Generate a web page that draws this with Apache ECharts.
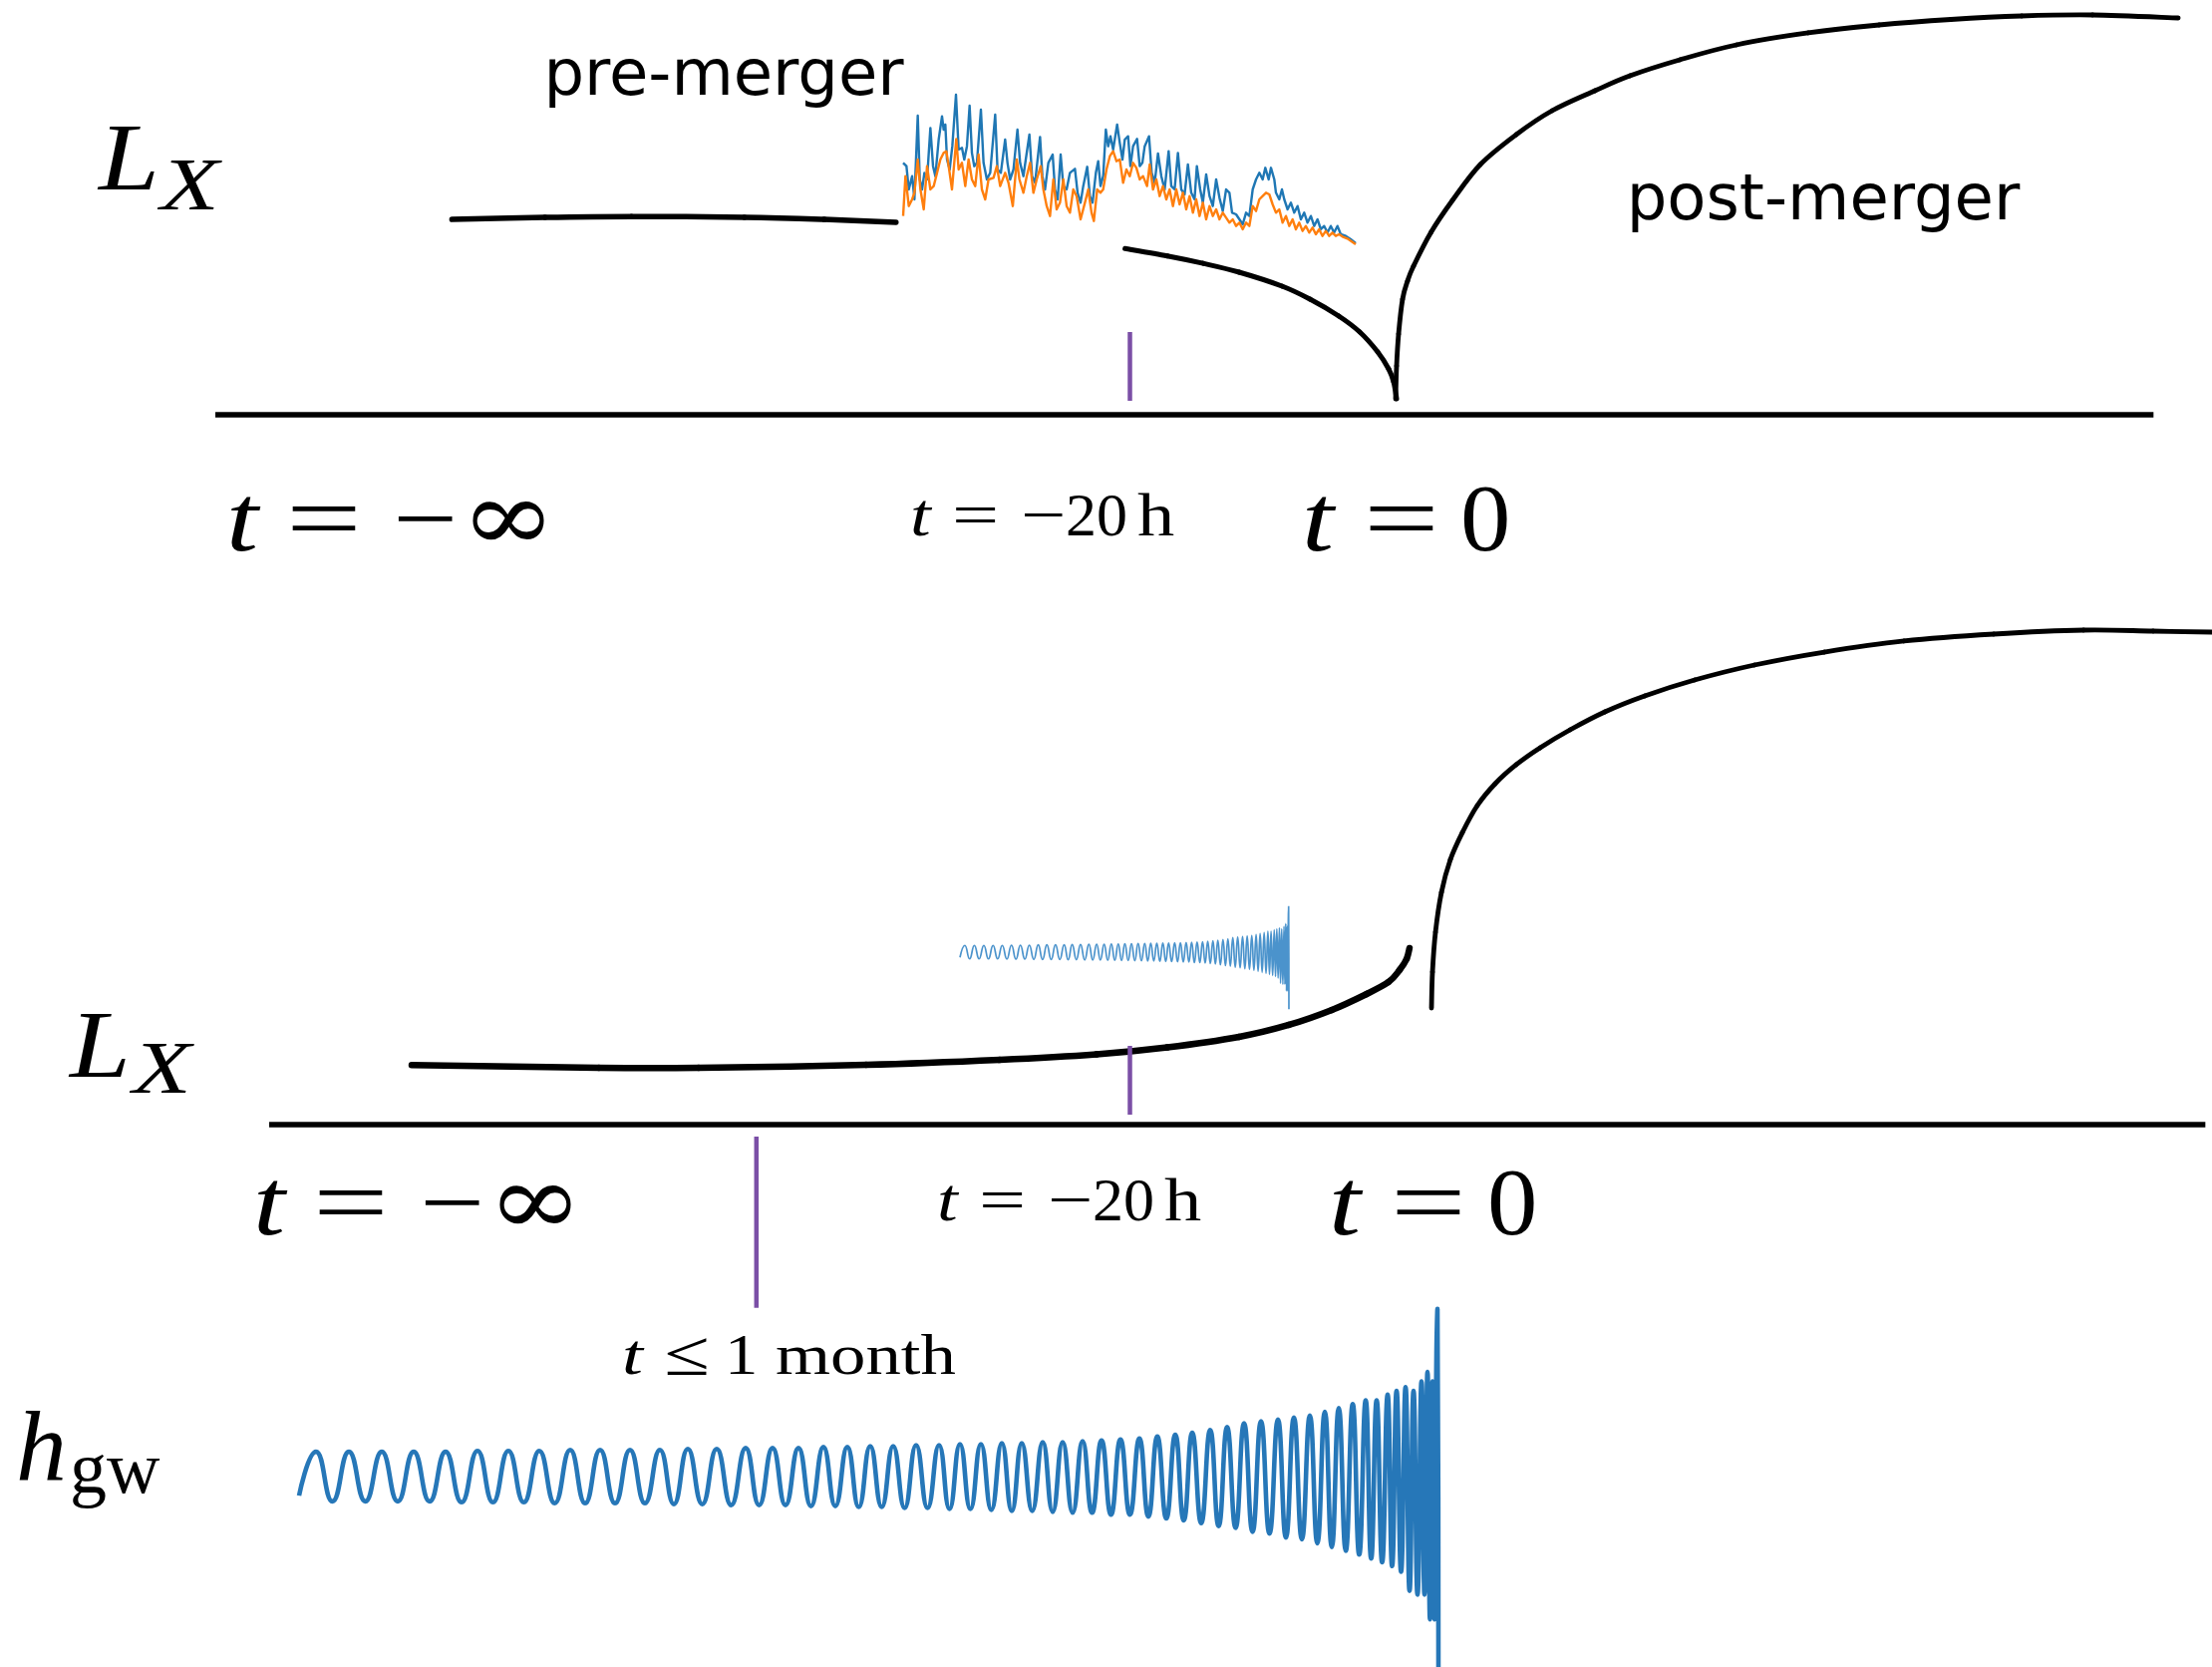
<!DOCTYPE html>
<html><head><meta charset="utf-8">
<script src="https://cdn.jsdelivr.net/npm/echarts@6/dist/echarts.min.js"></script>
<style>html,body{margin:0;padding:0;background:#fff}#c{width:2219px;height:1672px}</style>
</head><body><div id="c"></div><script>
// ---------- schematic time axis (t, arbitrary units; t=0 merger) ----------
const topAxisT = [-88.8, 57.0];
const botAxisT = [-84.75, 60.9];
const tickT = -20;
const topTickL = [19.95, 3.37];
const botTickL = [18.99, 2.40];
const monthT = -48.1;
const monthL = [-2.9, -44.2];

// ---------- upper panel: L_X ----------
const topPreT = [-71, -64, -57.5, -49, -43, -37.6];
const topPreL = [47.1, 47.6, 47.8, 47.6, 47.1, 46.4];
const topDecayT = [-20.37, -17.19, -14.5, -11.79, -8.56, -6.46, -4.29, -2.71, -1.36, -0.54, -0.16, 0.06];
const topDecayL = [40.07, 38.29, 36.5, 34.38, 31.01, 27.88, 23.80, 19.95, 15.14, 11.06, 7.93, 3.85];
const topRiseT = [-0.015, 0.06, 0.21, 0.51, 0.88, 1.33, 2.65, 4.26, 6.36, 9.06, 11.76, 14.98, 17.61, 21.36, 25.63, 31.03, 36.36, 41.76, 47.08, 52.41, 58.86];
const topRiseL = [3.85, 11.78, 19.47, 27.88, 32.21, 35.82, 43.99, 51.68, 60.34, 67.55, 73.32, 78.13, 81.73, 85.58, 89.18, 92.07, 93.99, 95.31, 96.15, 96.39, 95.67];

// observed light curves (time index, count rate)
const lcBlue = [[0,250],[10,240],[17,170],[27,210],[34,140],[44,392],[50,200],[57,170],[64,220],[72,200],[82,355],[90,240],[97,210],[107,320],[117,390],[122,350],[127,365],[132,260],[140,230],[148,300],[159,455],[167,290],[177,295],[184,260],[192,300],[200,422],[207,280],[214,240],[222,250],[234,410],[242,250],[252,200],[262,220],[277,395],[284,230],[294,220],[307,320],[314,250],[322,200],[332,230],[344,350],[352,250],[362,210],[369,260],[380,335],[388,210],[397,190],[412,328],[419,210],[427,170],[437,250],[450,275],[457,170],[465,140],[474,275],[482,180],[492,170],[502,220],[517,232],[525,160],[534,130],[542,180],[554,238],[562,150],[570,130],[580,220],[587,255],[594,180],[602,210],[610,350],[617,300],[624,330],[632,290],[644,365],[652,310],[660,260],[667,320],[677,330],[684,240],[692,300],[704,322],[712,240],[720,250],[727,300],[740,330],[748,220],[757,190],[767,278],[777,210],[787,170],[799,285],[807,180],[817,170],[827,280],[837,170],[847,155],[857,245],[867,160],[877,140],[884,240],[894,170],[902,130],[912,215],[922,150],[932,120],[942,200],[952,145],[962,105],[972,170],[982,160],[990,100],[1002,95],[1012,80],[1022,65],[1032,100],[1042,90],[1052,170],[1062,200],[1072,220],[1082,200],[1090,235],[1100,200],[1107,235],[1117,200],[1122,160],[1132,140],[1140,170],[1147,140],[1157,110],[1167,130],[1177,100],[1187,120],[1197,80],[1207,100],[1217,70],[1227,90],[1237,60],[1247,80],[1257,50],[1267,60],[1277,40],[1287,60],[1297,40],[1307,60],[1317,35],[1332,30],[1347,20],[1362,8]];
const lcOrange = [[0,90],[7,210],[17,120],[27,140],[34,160],[44,260],[52,170],[62,110],[72,240],[82,170],[92,180],[102,220],[112,260],[122,280],[130,285],[137,240],[147,170],[160,322],[167,230],[177,250],[187,180],[197,260],[207,200],[217,180],[227,275],[237,170],[247,140],[257,200],[272,205],[282,240],[292,180],[307,220],[317,190],[330,120],[342,260],[350,200],[362,160],[372,210],[382,250],[392,160],[402,200],[414,240],[422,170],[432,120],[442,90],[452,200],[462,110],[472,130],[482,200],[492,120],[502,100],[512,170],[522,150],[534,80],[547,130],[557,170],[567,100],[574,75],[584,170],[594,160],[602,170],[612,230],[622,270],[632,285],[642,255],[652,260],[662,190],[672,230],[682,210],[692,250],[702,235],[712,200],[722,210],[734,180],[742,245],[752,170],[762,200],[772,150],[782,180],[792,140],[802,170],[812,120],[822,170],[832,125],[842,160],[852,110],[862,150],[872,100],[882,140],[892,90],[902,130],[912,80],[922,120],[932,90],[942,110],[952,80],[962,100],[972,85],[982,70],[992,80],[1002,60],[1012,70],[1022,50],[1032,70],[1042,60],[1052,120],[1062,105],[1072,140],[1082,150],[1092,160],[1102,155],[1112,125],[1122,100],[1132,110],[1142,70],[1152,90],[1162,60],[1172,80],[1182,50],[1192,70],[1202,45],[1212,60],[1222,40],[1232,55],[1242,35],[1252,50],[1262,30],[1272,45],[1282,30],[1292,40],[1302,30],[1312,35],[1322,28],[1337,22],[1352,12],[1362,5]];

// ---------- lower panel: L_X ----------
const botLowT = [-74.03, -59.95, -52.45, -39.85, -29.80, -22.52, -17.19, -11.79, -8.04, -4.81, -2.19, -0.54, 0.28, 0.81, 1.03];
const botLowL = [14.35, 13.70, 13.70, 14.42, 15.63, 16.95, 18.61, 21.15, 24.04, 27.64, 31.49, 34.38, 37.26, 39.90, 42.55];
const botRiseT = [2.685, 2.76, 2.985, 3.435, 4.11, 5.01, 6.13, 7.48, 9.06, 10.86, 13.11, 15.73, 18.73, 22.48, 26.98, 32.23, 38.23, 44.98, 51.73, 56.98, 61.40];
const botRiseL = [28.13, 36.78, 46.39, 56.01, 63.94, 70.43, 76.92, 82.21, 86.78, 90.87, 95.19, 99.52, 103.37, 107.21, 110.82, 113.94, 116.59, 118.27, 119.23, 118.99, 118.75];

// ---------- gravitational-wave chirp (time since start, strain) ----------
const gwPeakTime = [17,50,83,115,147,179,210,241,272,302,332,362,390,419,448,475,501,526,550,573,596,619,642,663,684,705,725,746,766,786,805,824,843,861,879,896,914,931,948,965,982,998,1014,1029,1043,1057,1070,1081,1092,1101,1110,1118,1126,1132,1137,1141];
const gwPeakAmp = [.13,.13,.13,.13,.13,.135,.135,.135,.14,.14,.14,.14,.145,.145,.15,.15,.15,.155,.155,.16,.16,.165,.165,.17,.17,.175,.175,.18,.18,.185,.19,.195,.2,.21,.22,.23,.245,.26,.28,.29,.30,.31,.32,.34,.36,.38,.40,.40,.43,.45,.47,.45,.50,.55,.50,.65];
const gwTroughTime = [0,33.5,66.5,99,131,163,194.5,225.5,256.5,287,317,347,376,404.5,433.5,461.5,488,513.5,538,561.5,584.5,607.5,630.5,652.5,673.5,694.5,715,735.5,756,776,795.5,814.5,833.5,852,870,887.5,905,922.5,939.5,956.5,973.5,990,1006,1021.5,1036,1050,1063.5,1075.5,1086.5,1096.5,1105.5,1114,1122,1129,1134.5,1139];
const gwTroughAmp = [-.10,-.13,-.13,-.13,-.13,-.135,-.135,-.135,-.14,-.14,-.14,-.14,-.145,-.145,-.15,-.15,-.15,-.155,-.155,-.16,-.16,-.165,-.165,-.17,-.17,-.175,-.18,-.18,-.185,-.19,-.19,-.2,-.2,-.21,-.22,-.23,-.245,-.26,-.27,-.29,-.30,-.32,-.33,-.35,-.37,-.39,-.41,-.43,-.45,-.47,-.50,-.60,-.62,-.62,-.75,-.75];
const gwSpikeTime = [1142, 1143];
const gwSpikeAmp = [0.88, -1.1];

// ---------- text labels ----------
const labelPre = 'pre-merger';
const labelPost = 'post-merger';
const labelLX = ['L', 'X'];
const labelH = ['h', 'gw'];
const tInf = ['t', '=', '−', '∞'];
const t20 = ['t', '=', '−', '20', 'h'];
const t0 = ['t', '=', '0'];
const tMonth = ['t', '≤', '1', 'month'];

// ---------- build ----------
const zip = (a, b) => a.map((v, i) => [v, b[i]]);
const gwData = [];
gwTroughTime.forEach((t, i) => gwData.push([t, gwTroughAmp[i]]));
gwPeakTime.forEach((t, i) => gwData.push([t, gwPeakAmp[i]]));
gwSpikeTime.forEach((t, i) => gwData.push([t, gwSpikeAmp[i]]));
gwData.sort((a, b) => a[0] - b[0]);

const BLACK = '#000000', PURPLE = '#7b4fa6', C_BLUE = '#1f77b4', C_ORANGE = '#ff7f0e';
function line(grid, data, color, width, smooth, extra) {
  return Object.assign({
    type: 'line', xAxisIndex: grid, yAxisIndex: grid, data: data, showSymbol: false, symbol: 'none',
    smooth: smooth, clip: false, silent: true,
    lineStyle: { color: color, width: width, cap: 'butt', join: 'round' }
  }, extra || {});
}
// smooth (Catmull-Rom) curve through the data points, positioned by the grid's axes (api.coord)
function curve(grid, data, color, width) {
  return {
    type: 'custom', coordinateSystem: 'cartesian2d', xAxisIndex: grid, yAxisIndex: grid,
    data: data, silent: true, clip: false,
    renderItem: function (params, api) {
      if (params.dataIndex !== 0) return null;
      const p = data.map(function (d) { return api.coord(d); });
      const children = [];
      for (let i = 0; i < p.length - 1; i++) {
        const p0 = p[Math.max(0, i - 1)], p1 = p[i], p2 = p[i + 1], p3 = p[Math.min(p.length - 1, i + 2)];
        children.push({
          type: 'bezierCurve',
          shape: {
            x1: p1[0], y1: p1[1], x2: p2[0], y2: p2[1],
            cpx1: p1[0] + (p2[0] - p0[0]) / 6, cpy1: p1[1] + (p2[1] - p0[1]) / 6,
            cpx2: p2[0] - (p3[0] - p1[0]) / 6, cpy2: p2[1] - (p3[1] - p1[1]) / 6
          },
          style: { stroke: color, lineWidth: width, fill: null, lineCap: 'round' }
        });
      }
      return { type: 'group', children: children };
    }
  };
}

const serif = '"Liberation Serif", "DejaVu Serif", serif';
const dserif = '"DejaVu Serif", serif';
const sans = '"DejaVu Sans", sans-serif';
// one glyph group: left edge x, baseline y
function glyph(x, base, text, size, style, sx, fam, align) {
  return {
    type: 'text', silent: true, x: x, y: base - 0.30 * size, scaleX: sx || 1, scaleY: 1,
    style: {
      x: 0, y: 0, text: text, font: (style ? style + ' ' : '') + size + 'px ' + (fam || serif), fill: '#000',
      align: align || 'left', textAlign: align || 'left', verticalAlign: 'middle', textVerticalAlign: 'middle'
    }
  };
}
function tInfLabel(dx, dy) {
  return [
    glyph(227 + dx, 556 + dy, tInf[0], 96, 'italic', 1.2),
    glyph(287 + dx, 556 + dy, tInf[1], 96, '', 1.4),
    glyph(394 + dx, 556 + dy, tInf[2], 96, '', 1.2),
    glyph(462 + dx, 556 + dy, tInf[3], 100, '', 1.15, dserif)
  ];
}
function t20Label(dx, dy) {
  return [
    glyph(913 + dx, 539 + dy, t20[0], 62, 'italic', 1.2),
    glyph(955 + dx, 539 + dy, t20[1], 62, '', 1.35),
    glyph(1024 + dx, 539 + dy, t20[2], 62, '', 1.3),
    glyph(1069 + dx, 539 + dy, t20[3], 62, '', 1.0),
    glyph(1141 + dx, 539 + dy, t20[4], 62, '', 1.2)
  ];
}
function t0Label(dx, dy) {
  return [
    glyph(1306 + dx, 556 + dy, t0[0], 96, 'italic', 1.2),
    glyph(1368 + dx, 556 + dy, t0[1], 96, '', 1.4),
    glyph(1465 + dx, 556 + dy, t0[2], 96, '', 1.05)
  ];
}

const graphics = [].concat(
  [
    glyph(99, 194, labelLX[0], 96, 'italic', 1.14),
    glyph(161, 213, labelLX[1], 74, 'italic', 1.3),
    glyph(726, 98, labelPre, 64, '', 1, sans, 'center'),
    glyph(1829, 223, labelPost, 64, '', 1, sans, 'center'),
    glyph(70, 1084, labelLX[0], 96, 'italic', 1.14),
    glyph(133, 1099, labelLX[1], 74, 'italic', 1.3),
    glyph(16, 1488, labelH[0], 100, 'italic', 1.02),
    glyph(70, 1500, labelH[1], 74, '', 1.0),
    glyph(624, 1380, tMonth[0], 58, 'italic', 1.3),
    glyph(666, 1381, tMonth[1], 64, '', 1.3),
    glyph(727, 1380, tMonth[2], 58, '', 1.15),
    glyph(778, 1380, tMonth[3], 58, '', 1.22)
  ],
  tInfLabel(0, 0), t20Label(0, 0), t0Label(0, 0),
  tInfLabel(27, 686), t20Label(27, 687), t0Label(27, 686)
);

const hidden = { show: false };
const option = {
  animation: false,
  backgroundColor: '#ffffff',
  grid: [
    { left: 0, width: 2219, top: 0, height: 457.6 },        // upper L_X panel
    { left: 0, width: 2219, top: 608, height: 728 },        // lower L_X panel
    { left: 300, width: 1150, top: 1290, height: 382 },     // h_gw
    { left: 963, width: 332, top: 892.6, height: 124.8 },   // small chirp inset
    { left: 906, width: 454, top: 80, height: 166.67 }      // observed light curve
  ],
  xAxis: [
    Object.assign({ type: 'value', gridIndex: 0, min: -105, max: 61.4 }, hidden),
    Object.assign({ type: 'value', gridIndex: 1, min: -105, max: 61.4 }, hidden),
    Object.assign({ type: 'value', gridIndex: 2, min: 0, max: 1150 }, hidden),
    Object.assign({ type: 'value', gridIndex: 3, min: 0, max: 1150 }, hidden),
    Object.assign({ type: 'value', gridIndex: 4, min: 0, max: 1362 }, hidden)
  ],
  yAxis: [
    Object.assign({ type: 'value', gridIndex: 0, min: -10, max: 100 }, hidden),
    Object.assign({ type: 'value', gridIndex: 1, min: -50, max: 125 }, hidden),
    Object.assign({ type: 'value', gridIndex: 2, min: -1, max: 1 }, hidden),
    Object.assign({ type: 'value', gridIndex: 3, min: -1.2, max: 1.2 }, hidden),
    Object.assign({ type: 'value', gridIndex: 4, min: 0, max: 500 }, hidden)
  ],
  series: [
    line(0, [[topAxisT[0], 0], [topAxisT[1], 0]], BLACK, 5.5, false),
    curve(0, zip(topPreT, topPreL), BLACK, 5.5),
    curve(0, zip(topDecayT, topDecayL), BLACK, 5),
    curve(0, zip(topRiseT, topRiseL), BLACK, 4.8),
    line(0, [[tickT, topTickL[0]], [tickT, topTickL[1]]], PURPLE, 4.5, false),
    line(4, lcBlue, C_BLUE, 2.4, false),
    line(4, lcOrange, C_ORANGE, 2.4, false),
    line(1, [[botAxisT[0], 0], [botAxisT[1], 0]], BLACK, 5.5, false),
    curve(1, zip(botLowT, botLowL), BLACK, 6.5),
    curve(1, zip(botRiseT, botRiseL), BLACK, 4.8),
    line(1, [[tickT, botTickL[0]], [tickT, botTickL[1]]], PURPLE, 4.5, false),
    line(1, [[monthT, monthL[0]], [monthT, monthL[1]]], PURPLE, 4.5, false),
    line(2, gwData, '#2677b8', 4.6, true, { clip: true }),
    line(3, gwData, '#4b93cc', 1.7, true)
  ],
  graphic: graphics
};
const chart = echarts.init(document.getElementById('c'), null, { renderer: 'canvas' });
chart.setOption(option);
</script></body></html>
